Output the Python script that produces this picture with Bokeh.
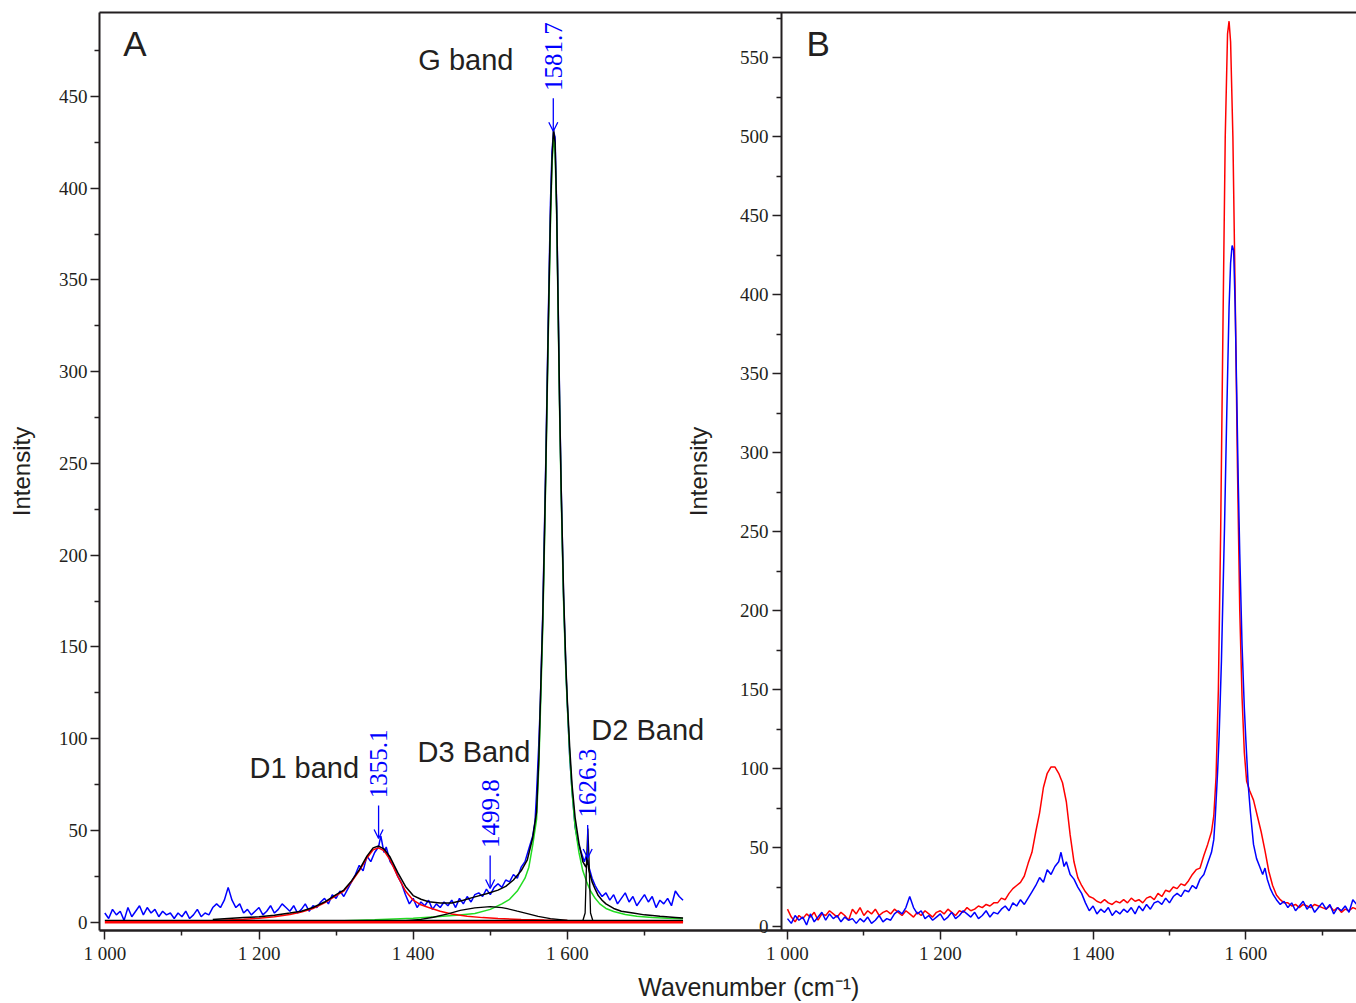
import numpy as np
from bokeh.plotting import figure
from bokeh.models import Range1d, LinearAxis, FixedTicker, Arrow, OpenHead, Label
from bokeh.embed import file_html
from bokeh.resources import INLINE
from bokeh.core.properties import value

# ---------------- data ----------------
# measured spectrum (blue) - shown in panel A and panel B
spec_wn = [1000, 1005, 1010, 1015, 1020, 1025, 1030, 1035, 1040, 1045, 1050, 1055, 1060, 1065, 1070, 1075,
           1080, 1085, 1090, 1095, 1100, 1105, 1110, 1115, 1120, 1125, 1130, 1135, 1140, 1145, 1150, 1155,
           1160, 1165, 1170, 1175, 1180, 1185, 1190, 1195, 1200, 1205, 1210, 1215, 1220, 1225, 1230, 1235,
           1240, 1245, 1250, 1255, 1260, 1265, 1270, 1275, 1280, 1285, 1290, 1295, 1300, 1305, 1310, 1315,
           1320, 1325, 1330, 1335, 1340, 1345, 1350, 1355, 1358, 1362, 1365, 1370, 1375, 1380, 1385, 1390,
           1395, 1400, 1405, 1410, 1415, 1420, 1425, 1430, 1435, 1440, 1445, 1450, 1455, 1460, 1465, 1470,
           1475, 1480, 1485, 1490, 1495, 1500, 1505, 1510, 1515, 1520, 1525, 1530, 1535, 1540, 1545, 1550,
           1555, 1558, 1560, 1563, 1565, 1568, 1570, 1572, 1575, 1578, 1580, 1582, 1584, 1586, 1588, 1590,
           1592, 1595, 1598, 1600, 1603, 1606, 1610, 1614, 1618, 1622, 1625, 1628, 1632, 1636, 1640, 1645,
           1650, 1655, 1660, 1665, 1670, 1675, 1680, 1685, 1690, 1695, 1700, 1705, 1710, 1715, 1720, 1725,
           1730, 1735, 1740, 1745, 1750]
spec_int = [5, 2, 7, 4, 6, 1, 8, 3, 6, 9, 4, 8, 5, 7, 3, 6,
            4, 5, 2, 5, 3, 6, 2, 4, 7, 3, 5, 4, 8, 10, 8, 12,
            19, 12, 8, 10, 5, 7, 4, 6, 8, 4, 6, 9, 5, 7, 10, 8,
            6, 9, 5, 7, 10, 6, 9, 8, 11, 13, 10, 15, 13, 17, 14, 18,
            22, 26, 31, 28, 36, 33, 38, 41, 47, 38, 41, 33, 30, 25, 21, 15,
            10, 13, 8, 11, 9, 12, 7, 10, 8, 11, 9, 12, 8, 13, 10, 14,
            11, 15, 16, 14, 18, 15, 19, 21, 19, 23, 22, 26, 24, 30, 33, 40,
            47, 55, 70, 98, 121, 168, 210, 252, 325, 392, 420, 431, 428, 392, 338, 282,
            236, 178, 138, 118, 90, 72, 52, 43, 38, 33, 37, 30, 24, 20, 17, 14,
            16, 12, 15, 10, 13, 16, 11, 14, 9, 12, 15, 11, 14, 8, 12, 10,
            13, 9, 17, 14, 12]

# second spectrum (red) - panel B
red_wn = [1000, 1005, 1010, 1015, 1020, 1025, 1030, 1035, 1040, 1045, 1050, 1055, 1060, 1065, 1070, 1075,
          1080, 1085, 1090, 1095, 1100, 1105, 1110, 1115, 1120, 1125, 1130, 1135, 1140, 1145, 1150, 1155,
          1160, 1165, 1170, 1175, 1180, 1185, 1190, 1195, 1200, 1205, 1210, 1215, 1220, 1225, 1230, 1235,
          1240, 1245, 1250, 1255, 1260, 1265, 1270, 1275, 1280, 1285, 1290, 1295, 1300, 1305, 1310, 1315,
          1320, 1325, 1330, 1335, 1340, 1345, 1350, 1355, 1360, 1365, 1370, 1375, 1380, 1385, 1390, 1395,
          1400, 1405, 1410, 1415, 1420, 1425, 1430, 1435, 1440, 1445, 1450, 1455, 1460, 1465, 1470, 1475,
          1480, 1485, 1490, 1495, 1500, 1505, 1510, 1515, 1520, 1525, 1530, 1535, 1540, 1545, 1550, 1555,
          1558, 1561, 1564, 1567, 1570, 1573, 1576, 1578, 1580, 1583, 1586, 1589, 1592, 1595, 1598, 1601,
          1605, 1610, 1615, 1620, 1625, 1630, 1635, 1640, 1645, 1650, 1655, 1660, 1665, 1670, 1675, 1680,
          1685, 1690, 1695, 1700, 1705, 1710, 1715, 1720, 1725, 1730, 1735, 1740, 1745, 1750]
red_int = [11, 6, 3, 7, 5, 8, 6, 9, 4, 8, 7, 10, 8, 6, 9, 7,
           4, 11, 8, 12, 7, 10, 8, 11, 7, 9, 10, 8, 11, 9, 7, 10,
           8, 6, 9, 7, 10, 8, 6, 9, 10, 8, 11, 9, 7, 10, 9, 12,
           10, 11, 13, 12, 14, 13, 15, 15, 18, 17, 21, 24, 26, 28, 32, 40,
           47, 60, 72, 88, 97, 101, 101, 97, 91, 79, 58, 41, 31, 26, 22, 19,
           18, 16, 15, 17, 15, 14, 16, 15, 17, 15, 18, 16, 17, 15, 18, 19,
           17, 21, 19, 23, 22, 25, 24, 27, 26, 29, 33, 36, 37, 45, 52, 60,
           70, 95, 150, 250, 380, 500, 565, 573, 560, 500, 400, 290, 200, 145, 110, 92,
           86, 80, 70, 60, 48, 35, 26, 20, 17, 15, 15, 13, 14, 12, 14, 13,
           12, 14, 13, 12, 11, 13, 10, 12, 9, 11, 10, 12, 11, 12]

# fitted envelope (black) - panel A
fit_wn = [1140, 1160, 1180, 1200, 1220, 1240, 1255, 1270, 1285, 1300, 1310, 1320, 1330, 1340, 1348, 1355,
          1362, 1370, 1380, 1390, 1400, 1410, 1420, 1435, 1450, 1465, 1480, 1495, 1510, 1520, 1530, 1540,
          1548, 1555, 1560, 1563, 1565, 1568, 1570, 1572, 1575, 1578, 1580, 1582, 1584, 1586, 1588, 1590,
          1592, 1595, 1598, 1600, 1603, 1606, 1610, 1615, 1620, 1624, 1626, 1628, 1632, 1636, 1640, 1645,
          1650, 1660, 1670, 1685, 1700, 1720, 1740, 1750]
fit_int = [1.5, 2, 2.5, 3, 3.8, 5, 6, 8, 11, 15, 17.5, 22.5, 28.5, 36, 40.5, 41.5,
           40, 35.5, 27, 19.5, 14.5, 12.5, 11.2, 10.5, 10.5, 12, 13.8, 15.5, 17.5, 19.5, 23, 28,
           34, 46, 60, 90, 121, 165, 205, 248, 320, 385, 415, 432, 425, 390, 335, 280,
           235, 180, 140, 120, 95, 75, 57, 43, 33, 30, 34, 28, 22, 18, 14.5, 12,
           10, 7.5, 6, 5, 4, 3.2, 2.6, 2.3]

# D1 component (red)
d1_wn = [1140, 1160, 1180, 1200, 1220, 1240, 1255, 1270, 1285, 1300, 1310, 1320, 1330, 1340, 1348, 1355,
         1362, 1370, 1380, 1390, 1400, 1410, 1420, 1435, 1450, 1470, 1490, 1510, 1540, 1570, 1600]
d1_int = [0.8, 1.2, 1.6, 2.2, 3.0, 4.2, 5.5, 7.5, 10.5, 14.5, 17, 22, 28, 35, 39.5, 40.5,
          39, 34, 25, 17, 12, 9.5, 8, 6, 4.5, 3.2, 2.5, 2, 1.5, 1.2, 1.0]

# G component (green)
g_wn = [1310, 1350, 1400, 1430, 1460, 1480, 1500, 1515, 1525, 1535, 1545, 1550, 1555, 1560, 1563, 1565,
        1568, 1570, 1572, 1575, 1578, 1580, 1582, 1584, 1586, 1588, 1590, 1592, 1595, 1598, 1600, 1603,
        1606, 1610, 1615, 1620, 1625, 1630, 1636, 1642, 1650, 1660, 1675, 1690, 1710, 1730, 1750]
g_int = [0.8, 1.3, 2.2, 3.0, 3.9, 4.8, 7, 10, 12.5, 17, 24, 30, 42, 56, 86, 115,
         160, 200, 244, 315, 380, 412, 428, 420, 386, 332, 276, 231, 175, 136, 117, 91,
         71, 52, 38, 28, 22, 17, 13, 10, 7.5, 5.8, 4.2, 3.3, 2.6, 2.2, 1.9]

# D3 component (black)
d3_wn = [1390, 1410, 1426, 1445, 1461, 1480, 1500, 1515, 1522, 1535, 1548, 1562, 1578, 1600, 1620]
d3_int = [0.8, 1.5, 2.7, 4.5, 6.4, 7.8, 8.5, 8, 7.4, 6, 4.7, 3.2, 2, 1, 0.5]

# D2 component (black)
d2_wn = [1540, 1610, 1620, 1623, 1625, 1626.5, 1628, 1630, 1633, 1645, 1750]
d2_int = [0.5, 0.5, 0.8, 5, 35, 51, 35, 5, 0.8, 0.5, 0.5]

# flat base lines of the fit
base_wn = [1000, 1750]
base_red = [0, 0]
base_black = [1, 1]

# peak annotations
peak_labels = ["1355.1", "1499.8", "1581.7", "1626.3"]
peak_pos = [1355.1, 1499.8, 1581.7, 1626.3]
peak_tip = [45.6, 18.4, 431, 35]

band_labels = ["G band", "D1 band", "D3 Band", "D2 Band"]
band_x = [1406.7, 1187.6, 1405.6, 1631]
band_y = [470, 84.3, 93, 104.5]

# ticks
x_ticks = [1000, 1200, 1400, 1600]
x_minor = [1100, 1300, 1500, 1700]
x_tick_labels = {1000: "1 000", 1200: "1 200", 1400: "1 400", 1600: "1 600"}
a_yticks = [0, 50, 100, 150, 200, 250, 300, 350, 400, 450]
a_yminor = [25, 75, 125, 175, 225, 275, 325, 375, 425, 475]
b_yticks = [0, 50, 100, 150, 200, 250, 300, 350, 400, 450, 500, 550]
b_yminor = [25, 75, 125, 175, 225, 275, 325, 375, 425, 475, 525, 575]

# ---------------- figure ----------------
INK = "#231f20"
BLUE = "#0000ff"
RED = "#ff0000"
GREEN = "#22dd22"

# the whole canvas is the plot frame; panel geometry is set by the ranges
A_X = (864.7, 2623.5)
A_Y = (-44.3, 502.3)
B_X = (-30.1, 1744.8)
B_Y = (-48.7, 586.1)
A_LEFT = 993.1      # panel A y-axis position (A x units)
B_LEFT = 1877.7     # panel B y-axis position (A x units)
A_BOX_Y = (-4.5, 495.8)   # bottom / top of the boxed area (A y units)
B_BOX_Y = (-2.5, 578.5)

p = figure(width=1356, height=1003, x_range=Range1d(*A_X), y_range=Range1d(*A_Y),
           output_backend="svg", toolbar_location=None,
           x_axis_location=None, y_axis_location=None,
           min_border_left=0, min_border_right=0, min_border_top=0, min_border_bottom=0)
p.extra_x_ranges = {"bx": Range1d(*B_X)}
p.extra_y_ranges = {"by": Range1d(*B_Y)}
p.outline_line_color = None
p.xgrid.visible = False
p.ygrid.visible = False
p.background_fill_color = "white"
p.border_fill_color = "white"


def style_axis(ax):
    ax.axis_line_color = INK
    ax.axis_line_width = 2
    ax.major_tick_line_color = INK
    ax.major_tick_line_width = 1.5
    ax.minor_tick_line_color = INK
    ax.minor_tick_line_width = 1.5
    ax.major_tick_in = 0
    ax.major_tick_out = 9
    ax.minor_tick_in = 0
    ax.minor_tick_out = 5
    ax.major_label_text_font = "Liberation Serif"
    ax.major_label_text_font_size = "19px"
    ax.major_label_text_color = INK
    ax.axis_label_text_font = "Liberation Sans"
    ax.axis_label_text_font_size = "24px"
    ax.axis_label_text_font_style = "normal"
    ax.axis_label_text_color = INK


# panel A left axis
ya = LinearAxis(fixed_location=A_LEFT, bounds=A_BOX_Y,
                ticker=FixedTicker(ticks=a_yticks, minor_ticks=a_yminor), axis_label="Intensity")
style_axis(ya)
ya.major_label_standoff = 3
ya.axis_label_standoff = 21
p.add_layout(ya, "left")

# panel B left axis
yb = LinearAxis(y_range_name="by", fixed_location=B_LEFT, bounds=B_BOX_Y,
                ticker=FixedTicker(ticks=b_yticks, minor_ticks=b_yminor), axis_label="Intensity")
style_axis(yb)
yb.major_label_standoff = 4
yb.axis_label_standoff = 25
p.add_layout(yb, "left")

# bottom axes
xa = LinearAxis(fixed_location=A_BOX_Y[0], bounds=(A_LEFT, A_X[1]),
                ticker=FixedTicker(ticks=x_ticks, minor_ticks=x_minor),
                major_label_overrides=x_tick_labels)
style_axis(xa)
xa.major_label_standoff = 4
xa.axis_line_width = 2.5
p.add_layout(xa, "below")

xb = LinearAxis(x_range_name="bx", fixed_location=A_BOX_Y[0],
                ticker=FixedTicker(ticks=x_ticks, minor_ticks=x_minor),
                major_label_overrides=x_tick_labels)
style_axis(xb)
xb.major_label_standoff = 4
xb.axis_line_color = None
p.add_layout(xb, "below")

# top frame line
top = LinearAxis(fixed_location=A_BOX_Y[1], bounds=(A_LEFT, A_X[1]),
                 ticker=FixedTicker(ticks=[], minor_ticks=[]))
style_axis(top)
top.major_label_text_font_size = "0px"
top.major_tick_out = 0
top.minor_tick_out = 0
p.add_layout(top, "above")

# ---- panel A curves ----
p.line(spec_wn, spec_int, line_color=BLUE, line_width=1.5)
p.line(g_wn, g_int, line_color=GREEN, line_width=1.5)
p.line(d1_wn, d1_int, line_color=RED, line_width=1.5)
p.line(d3_wn, d3_int, line_color="black", line_width=1.3)
p.line(d2_wn, d2_int, line_color="black", line_width=1.3)
p.line(base_wn, base_black, line_color="black", line_width=1.3)
p.line(base_wn, base_red, line_color=RED, line_width=2.5)
p.line(fit_wn, fit_int, line_color="black", line_width=1.5)

# ---- panel B curves ----
p.line(red_wn, red_int, line_color=RED, line_width=1.5, x_range_name="bx", y_range_name="by")
p.line(spec_wn, spec_int, line_color=BLUE, line_width=1.5, x_range_name="bx", y_range_name="by")

# ---- annotations ----
ARROW_LEN = 18
GAP = 4
for pos, tip in zip(peak_pos, peak_tip):
    p.add_layout(Arrow(end=OpenHead(size=9, line_color=BLUE, line_width=1.3),
                       x_start=pos, y_start=tip + ARROW_LEN, x_end=pos, y_end=tip,
                       line_color=BLUE, line_width=1.3))
p.text(x=peak_pos, y=[t + ARROW_LEN + GAP for t in peak_tip], text=peak_labels,
       angle=np.pi / 2, text_align="left", text_baseline="middle",
       text_font=value("Liberation Serif"), text_font_size="25px", text_color=BLUE)

p.text(x=band_x, y=band_y, text=band_labels, text_align="left", text_baseline="alphabetic",
       text_font=value("Liberation Sans"), text_font_size="29px", text_color=INK)

p.text(x=[1024], y=[479], text=["A"], text_align="left", text_baseline="alphabetic",
       text_font=value("Liberation Sans"), text_font_size="35px", text_color=INK)
p.text(x=[1025], y=[559], text=["B"], text_align="left", text_baseline="alphabetic",
       text_font=value("Liberation Sans"), text_font_size="35px", text_color=INK,
       x_range_name="bx", y_range_name="by")

p.add_layout(Label(x=1692, y=-35.5, text="Wavenumber (cm\u207b\u00b9)", text_font="Liberation Sans",
                   text_font_size="25px", text_color=INK, text_baseline="alphabetic"))

open("out.html", "w").write(file_html(p, INLINE))
